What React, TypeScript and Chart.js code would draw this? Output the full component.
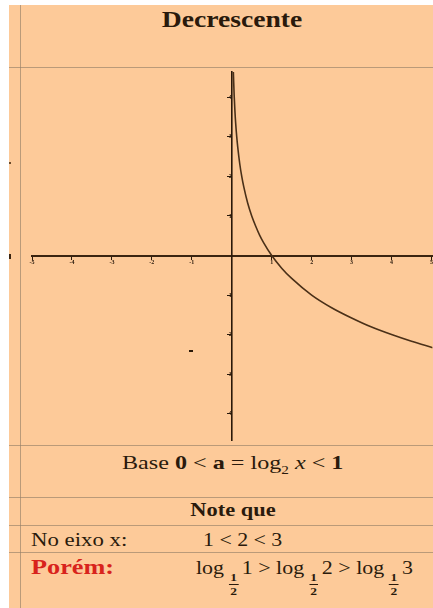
import React, { useEffect, useRef } from "react";
import { Chart, registerables } from "chart.js";

Chart.register(...registerables);

// Curve y = log_{1/2} x
const CURVE_X = [0.04, 0.06, 0.08, 0.1, 0.125, 0.15, 0.2, 0.25, 0.3, 0.4, 0.5, 0.6, 0.7, 0.8, 1, 1.25, 1.5, 2, 2.5, 3, 3.5, 4, 4.5, 5.03];
const CURVE_Y = [4.64, 4.06, 3.64, 3.32, 3, 2.74, 2.32, 2, 1.74, 1.32, 1, 0.74, 0.51, 0.32, 0, -0.32, -0.58, -1, -1.32, -1.58, -1.81, -2, -2.17, -2.33];

// Axis ticks
const X_TICKS = [-5, -4, -3, -2, -1, 1, 2, 3, 4, 5];
const Y_TICKS = [-4, -3, -2, -1, 1, 2, 3, 4];
const X_RANGE = [-5, 5.025];
const Y_RANGE = [-4.675, 4.65];

const PEACH = "#fdca99";
const INK = "#2a1a0c";
const LINE = "rgba(150,128,105,0.65)";
const SERIF = "'Liberation Serif', 'DejaVu Serif', serif";

function Plot() {
  const ref = useRef<HTMLCanvasElement | null>(null);
  useEffect(() => {
    if (!ref.current) return;
    const chart = new Chart(ref.current, {
      type: "line",
      data: {
        datasets: [
          {
            data: CURVE_X.map((x, i) => ({ x, y: CURVE_Y[i] })),
            borderColor: "#4a3018",
            borderWidth: 1.6,
            pointRadius: 0,
            cubicInterpolationMode: "monotone",
            fill: false,
          },
        ],
      },
      options: {
        animation: false,
        responsive: true,
        maintainAspectRatio: false,
        layout: { padding: { left: 12, right: 0, top: 3, bottom: 2 } },
        plugins: { legend: { display: false }, tooltip: { enabled: false } },
        scales: {
          x: {
            type: "linear",
            position: { y: 0 },
            min: X_RANGE[0],
            max: X_RANGE[1],
            afterBuildTicks: (s: any) => {
              s.ticks = X_TICKS.map((v) => ({ value: v }));
            },
            ticks: {
              autoSkip: false,
              maxRotation: 0,
              padding: 0,
              color: INK,
              font: { size: 6, family: SERIF, weight: "bold" },
            },
            grid: { drawOnChartArea: false, tickLength: 3, color: INK, tickWidth: 1 },
            border: { color: "#3a2410", width: 2 },
          },
          y: {
            type: "linear",
            position: { x: 0 },
            min: Y_RANGE[0],
            max: Y_RANGE[1],
            afterBuildTicks: (s: any) => {
              s.ticks = Y_TICKS.map((v) => ({ value: v }));
            },
            ticks: {
              autoSkip: false,
              padding: 1,
              color: INK,
              font: { size: 6, family: SERIF, weight: "bold" },
            },
            grid: { drawOnChartArea: false, tickLength: 4, color: INK, tickWidth: 1 },
            border: { color: "#2a1808", width: 1.6 },
          },
        },
      },
    });
    return () => chart.destroy();
  }, []);
  return (
    <div style={{ position: "absolute", left: 20, top: 67, width: 413, height: 378 }}>
      <canvas ref={ref} />
    </div>
  );
}

// Text block anchored at its left edge (or centre) and widened horizontally
function Txt(props: {
  x: number;
  y: number;
  size: number;
  sx: number;
  center?: boolean;
  bold?: boolean;
  color?: string;
  children: React.ReactNode;
}) {
  const { x, y, size, sx, center, bold, color, children } = props;
  return (
    <div
      style={{
        position: "absolute",
        left: x,
        top: y,
        whiteSpace: "nowrap",
        fontSize: size,
        lineHeight: `${size + 2}px`,
        fontWeight: bold ? "bold" : "normal",
        color: color || INK,
        transform: center ? `translateX(-50%) scaleX(${sx})` : `scaleX(${sx})`,
        transformOrigin: center ? "center center" : "left center",
      }}
    >
      {children}
    </div>
  );
}

// Stacked ½ used as the logarithm base
function Half() {
  return (
    <span
      style={{
        display: "inline-block",
        fontSize: 11,
        lineHeight: "11px",
        textAlign: "center",
        verticalAlign: -21,
        margin: "0 3px 0 4px",
        fontWeight: "bold",
      }}
    >
      <span style={{ display: "block", borderBottom: `1px solid ${INK}`, padding: "0 1px 1px" }}>1</span>
      <span style={{ display: "block", paddingTop: 1 }}>2</span>
    </span>
  );
}

export default function App() {
  const hLines = [67, 445, 497, 525, 552];
  const abs = (o: React.CSSProperties): React.CSSProperties => ({ position: "absolute", ...o });
  return (
    <div style={{ position: "absolute", left: 0, top: 0, width: 433, height: 608, background: "#fff", overflow: "hidden", fontFamily: SERIF, color: INK }}>
      <div style={abs({ left: 9, top: 5, width: 424, height: 603, background: PEACH })} />
      <div style={abs({ left: 20, top: 5, width: 1, height: 603, background: LINE })} />
      {hLines.map((y) => (
        <div key={y} style={abs({ left: 9, top: y, width: 424, height: 1, background: LINE })} />
      ))}
      <div style={abs({ left: 9, top: 162, width: 2, height: 2, background: "#6a4a2a" })} />
      <div style={abs({ left: 9, top: 254, width: 2, height: 5, background: "#3a2410" })} />
      <div style={abs({ left: 189, top: 350, width: 4, height: 2, background: "#2a1808" })} />

      <Plot />

      <Txt x={232} y={7} size={23} sx={1.2} center bold>
        Decrescente
      </Txt>

      <Txt x={122} y={452} size={19} sx={1.27}>
        Base <b>0</b> &lt; <b>a</b> = log<sub style={{ fontSize: 12 }}>2</sub> <i>x</i> &lt; <b>1</b>
      </Txt>

      <Txt x={233} y={499} size={19} sx={1.18} center bold>
        Note que
      </Txt>

      <Txt x={31} y={529} size={19} sx={1.2}>
        No eixo x:
      </Txt>
      <Txt x={203} y={529} size={19} sx={1.15}>
        1 &lt; 2 &lt; 3
      </Txt>

      <Txt x={31} y={556} size={21} sx={1.25} bold color="#d8231c">
        Porém:
      </Txt>

      <Txt x={196} y={558} size={18} sx={1.22}>
        log<Half />1 &gt; log<Half />2 &gt; log<Half />3
      </Txt>
    </div>
  );
}
